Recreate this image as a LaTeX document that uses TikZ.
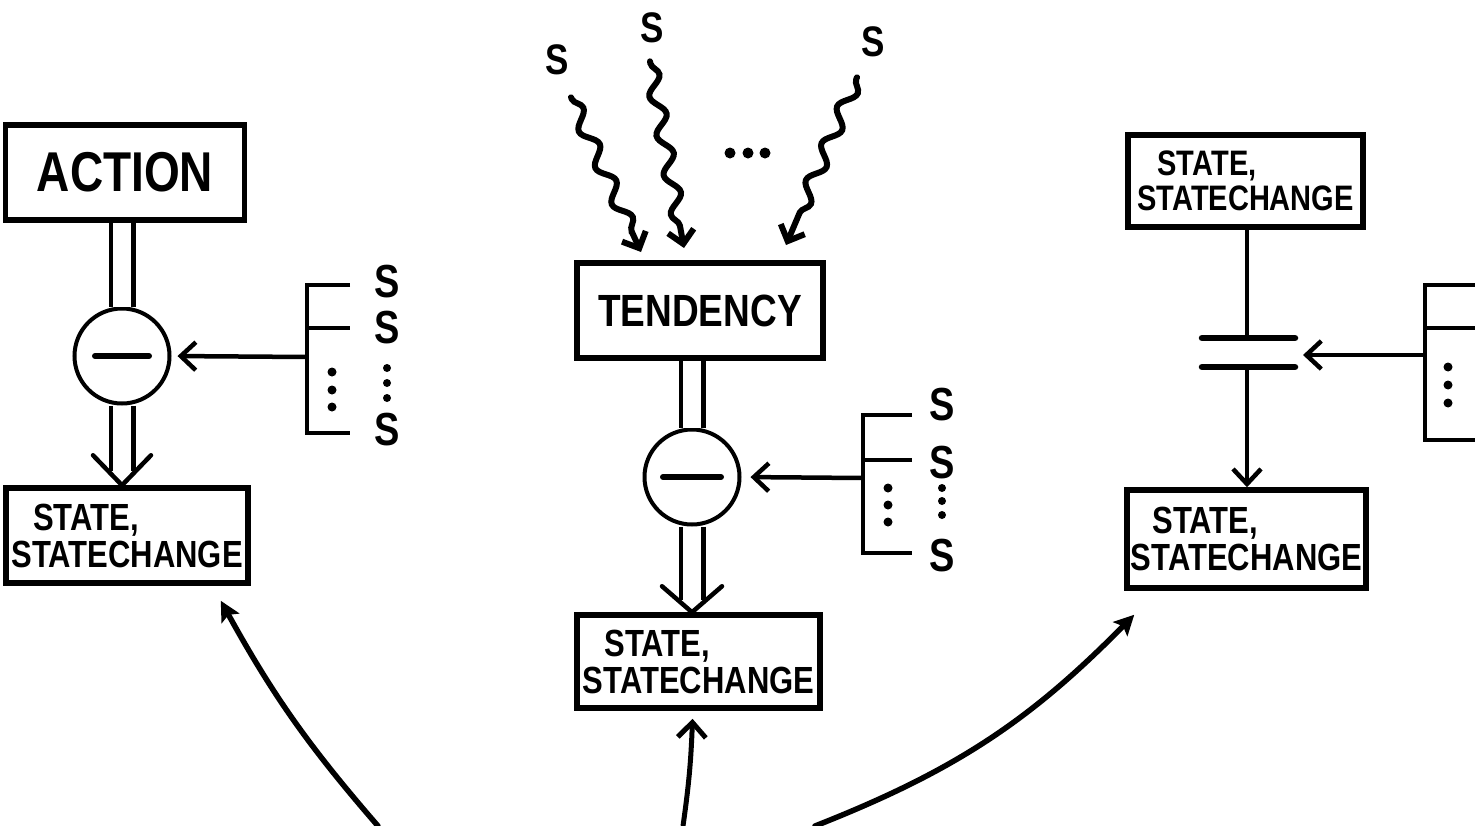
\documentclass[tikz,border=0pt]{standalone}
\usepackage{graphicx}
\usepackage{fontspec}
\setmainfont{Liberation Sans}
\usetikzlibrary{arrows.meta,decorations.pathmorphing}
\newcommand{\tallt}[1]{\scalebox{1}[1.22]{#1}}
\begin{document}
\begin{tikzpicture}[x=1pt,y=-1pt,
  box/.style={draw, line width=5.5pt, inner sep=0pt, align=left},
  bigtxt/.style={font=\fontsize{46}{50}\selectfont\bfseries},
  sttxt/.style={font=\fontsize{31}{37}\selectfont\bfseries},
  slab/.style={font=\fontsize{38}{38}\selectfont\bfseries, inner sep=0pt},
  toplab/.style={font=\fontsize{35}{35}\selectfont\bfseries, inner sep=0pt},
  gate/.style={circle, draw, line width=4pt, minimum size=95pt, inner sep=0pt},
  dshaft/.style={double, double distance=18pt, line width=4.5pt},
  vhead/.style={line width=4.5pt, line cap=round, line join=round},
  arr/.style={line width=4.5pt, -{Straight Barb[length=15pt,width=28pt]}},
  solidarr/.style={line width=5.5pt, line cap=round, -{Stealth[length=20pt,width=20pt,inset=4pt]}},
  brk/.style={line width=4pt},
  wave/.style={line width=6pt, line cap=round, decorate,
    decoration={snake, amplitude=7pt, segment length=40pt, post length=16pt, pre length=2pt},
    -{Straight Barb[length=13pt,width=26pt]}},
  minus/.style={line width=6pt, line cap=round},
  plate/.style={line width=6.5pt, line cap=round}
]
\useasboundingbox (0,0) rectangle (1475,825);

% ---------------- left panel ----------------
\node[box, bigtxt, minimum width=239pt, minimum height=95pt] (action) at (125,172.5) {\tallt{ACTION}};
\node[gate] (c1) at (122,356) {};
\draw[minus] ([xshift=-27pt]c1.center) -- ([xshift=27pt]c1.center);
\node[box, sttxt, minimum width=242pt, minimum height=95pt] (ls1) at (127,535.5) {\hspace*{0.7em}\tallt{STATE,}\\\tallt{STATECHANGE}};
\draw[dshaft] (c1 |- action.south) -- (c1.north);
\coordinate (t1) at (c1 |- ls1.north);
\draw[dshaft] (c1.south) -- ([yshift=14pt]t1);
\draw[vhead] ([shift={(-29,-30)}]t1) -- (t1) -- ([shift={(29,-30)}]t1);
% bracket
\draw[brk] (350,285) -- (307,285) -- (307,433) -- (350,433);
\draw[brk] (307,328) -- (350,328);
\coordinate (b1) at (307,357);
\draw[arr, shorten >=6pt] (b1) -- (c1.east);
\foreach \y in {372,390,407} \fill (332,\y) circle (4.5pt);
\node[slab] (l1s1) at (387,282) {\tallt{S}};
\node[slab] (l1s2) at (387,328) {\tallt{S}};
\foreach \y in {368,383,398} \fill (387,\y) circle (4pt);
\node[slab] (l1s3) at (387,430) {\tallt{S}};

% ---------------- middle panel ----------------
\node[toplab] (sa) at (557,60) {\tallt{S}};
\node[toplab] (sb) at (652,28) {\tallt{S}};
\node[toplab] (sc) at (873,42) {\tallt{S}};
\node[box, font=\fontsize{37}{40}\selectfont\bfseries, minimum width=246pt, minimum height=95pt] (tend) at (700,310.5) {\tallt{TENDENCY}};
\coordinate (w1) at (641,252);
\coordinate (w2) at (684,248);
\coordinate (w3) at (786,245);
\draw[wave] ([shift={(14,22)}]sa.south) -- (w1);
\draw[wave] ([shift={(-2,18)}]sb.south) -- (w2);
\draw[wave] ([shift={(-16,20)}]sc.south) -- (w3);
\foreach \x in {730,748,765} \fill (\x,153) circle (5.5pt);
\node[gate] (c2) at (692,477) {};
\draw[minus] ([xshift=-29pt]c2.center) -- ([xshift=29pt]c2.center);
\node[box, sttxt, minimum width=243pt, minimum height=93pt] (ms) at (698.5,661.5) {\hspace*{0.7em}\tallt{STATE,}\\\tallt{STATECHANGE}};
\draw[dshaft] (c2 |- tend.south) -- (c2.north);
\coordinate (t2) at (c2 |- ms.north);
\draw[dshaft] (c2.south) -- ([yshift=12pt]t2);
\draw[vhead] ([shift={(-30,-26)}]t2) -- (t2) -- ([shift={(30,-26)}]t2);
% bracket
\draw[brk] (912,415) -- (863,415) -- (863,553) -- (912,553);
\draw[brk] (863,460) -- (912,460);
\coordinate (b2) at (863,478);
\draw[arr, shorten >=9pt] (b2) -- (c2.east);
\foreach \y in {488,505,522} \fill (888,\y) circle (4.5pt);
\node[slab] (m1s1) at (942,405) {\tallt{S}};
\node[slab] (m1s2) at (942,463) {\tallt{S}};
\foreach \y in {488,501,515} \fill (942,\y) circle (4pt);
\node[slab] (m1s3) at (942,556) {\tallt{S}};

% ---------------- right panel ----------------
\node[box, font=\fontsize{29}{35}\selectfont\bfseries, minimum width=235pt, minimum height=92pt] (rt) at (1245.5,181) {\hspace*{0.7em}\tallt{STATE,}\\\tallt{STATECHANGE}};
\node[box, sttxt, minimum width=239pt, minimum height=98pt] (rb) at (1246.5,539) {\hspace*{0.7em}\tallt{STATE,}\\\tallt{STATECHANGE}};
\coordinate (p1) at (1247,338);
\coordinate (p2) at (1247,367);
\draw[brk] (rt.south -| p1) -- (p1);
\draw[plate] ([xshift=-45pt]p1) -- ([xshift=48pt]p1);
\draw[plate] ([xshift=-45pt]p2) -- ([xshift=48pt]p2);
\draw[arr] (p2) -- (p2 |- rb.north);
% bracket (cut at the page edge)
\draw[brk] (1480,285) -- (1425,285) -- (1425,440) -- (1480,440);
\draw[brk] (1425,328) -- (1480,328);
\coordinate (b3) at (1425,355);
\coordinate (g3) at (1303,355);
\draw[arr] (b3) -- (g3);
\foreach \y in {367,385,403} \fill (1448,\y) circle (4.5pt);

% ---------------- bottom arrows ----------------
\coordinate (bl) at (378,826);
\coordinate (bm) at (683,826);
\coordinate (br) at (815,826);
\draw[solidarr] (bl) to[bend left=6] ([shift={(-30,15)}]ls1.south east);
\draw[arr, line width=5pt] (bm) to[bend right=3] ([shift={(-6,8)}]ms.south);
\draw[solidarr] (br) to[bend right=12] ([shift={(10,24)}]rb.south west);
\end{tikzpicture}
\end{document}
